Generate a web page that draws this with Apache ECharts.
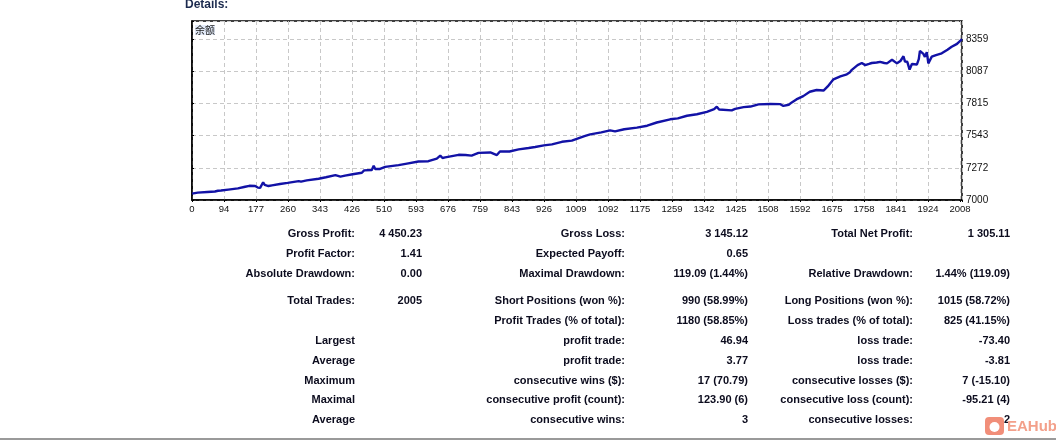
<!DOCTYPE html>
<html>
<head>
<meta charset="utf-8">
<script src="https://cdn.jsdelivr.net/npm/echarts@6.0.0/dist/echarts.min.js"></script>
<style>
  html, body { margin: 0; padding: 0; background: #fff; }
  #chart { width: 1056px; height: 441px; }
</style>
</head>
<body>
<div id="chart"></div>
<script>
// balance curve: [trade number, balance]
var trades = [0, 15, 40, 60, 68, 72, 76, 95, 120, 139, 150, 165, 172, 178, 186, 190, 200, 209, 230, 250,
  279, 285, 300, 331, 350, 375, 388, 400, 420, 444, 450, 470, 475, 479, 490, 505, 540, 562, 592, 618,
  640, 649, 655, 662, 697, 715, 731, 749, 780, 797, 805, 810, 830, 854, 880, 897, 920, 941, 967, 993,
  1026, 1041, 1070, 1093, 1106, 1130, 1163, 1190, 1215, 1250, 1270, 1294, 1320, 1346, 1365, 1372, 1378, 1411, 1420, 1442,
  1460, 1481, 1512, 1538, 1546, 1560, 1568, 1580, 1598, 1615, 1633, 1651, 1662, 1677, 1695, 1712, 1720, 1725, 1740, 1751,
  1760, 1770, 1777, 1790, 1799, 1810, 1817, 1830, 1843, 1852, 1860, 1864, 1870, 1876, 1882, 1895, 1900, 1903, 1908, 1912,
  1916, 1921, 1925, 1934, 1945, 1960, 1975, 1986, 2000, 2013];
var balance = [7054, 7062, 7068, 7072, 7078, 7062, 7080, 7088, 7098, 7112, 7120, 7118, 7105, 7102, 7150, 7128, 7118, 7124, 7135, 7145,
  7160, 7155, 7166, 7180, 7192, 7210, 7198, 7206, 7218, 7230, 7250, 7254, 7290, 7262, 7262, 7280, 7295, 7308, 7325, 7328,
  7350, 7375, 7355, 7360, 7382, 7380, 7375, 7398, 7402, 7380, 7410, 7418, 7410, 7428, 7440, 7448, 7462, 7470, 7492, 7502,
  7540, 7555, 7572, 7588, 7580, 7598, 7612, 7628, 7655, 7682, 7690, 7712, 7725, 7745, 7768, 7788, 7765, 7758, 7770, 7785,
  7790, 7808, 7812, 7810, 7795, 7805, 7825, 7850, 7878, 7915, 7930, 7925, 7960, 8020, 8045, 8062, 8080, 8100, 8140, 8158,
  8140, 8150, 8158, 8162, 8168, 8158, 8155, 8185, 8155, 8175, 8215, 8170, 8168, 8102, 8150, 8145, 8190, 8260, 8270, 8235,
  8210, 8250, 8155, 8212, 8225, 8240, 8270, 8295, 8320, 8359];

var xLabels = ['0', '94', '177', '260', '343', '426', '510', '593', '676', '759', '843', '926', '1009',
  '1092', '1175', '1259', '1342', '1425', '1508', '1592', '1675', '1758', '1841', '1924', '2008'];
var yLabels = ['7000', '7272', '7543', '7815', '8087', '8359'];

// report table, one row per line: label, value, label, value, label, value
var rows = [
  ['Gross Profit:', '4 450.23', 'Gross Loss:', '3 145.12', 'Total Net Profit:', '1 305.11'],
  ['Profit Factor:', '1.41', 'Expected Payoff:', '0.65', '', ''],
  ['Absolute Drawdown:', '0.00', 'Maximal Drawdown:', '119.09 (1.44%)', 'Relative Drawdown:', '1.44% (119.09)'],
  ['Total Trades:', '2005', 'Short Positions (won %):', '990 (58.99%)', 'Long Positions (won %):', '1015 (58.72%)'],
  ['', '', 'Profit Trades (% of total):', '1180 (58.85%)', 'Loss trades (% of total):', '825 (41.15%)'],
  ['Largest', '', 'profit trade:', '46.94', 'loss trade:', '-73.40'],
  ['Average', '', 'profit trade:', '3.77', 'loss trade:', '-3.81'],
  ['Maximum', '', 'consecutive wins ($):', '17 (70.79)', 'consecutive losses ($):', '7 (-15.10)'],
  ['Maximal', '', 'consecutive profit (count):', '123.90 (6)', 'consecutive loss (count):', '-95.21 (4)'],
  ['Average', '', 'consecutive wins:', '3', 'consecutive losses:', '2']
];

var X_STEP = 2008 / 24;
var Y_STEP = 271.7;
var colRight = [355, 422, 625, 748, 913, 1010];
var rowY = [234, 254, 274, 301, 321, 341, 361, 381, 400, 420];
var TEXT_COLOR = '#0c0c1e';
var TABLE_FONT = 'bold 11px "Liberation Sans", Arial, sans-serif';

function pickLabel(list, v, step, base) {
    var k = (v - base) / step;
    var i = Math.round(k);
    if (Math.abs(k - i) > 0.01 || i < 0 || i >= list.length) return '';
    return list[i];
}

var chart = echarts.init(document.getElementById('chart'), null, { renderer: 'canvas' });

var graphics = [
    {
        type: 'text',
        style: { text: 'Details:', x: 185, y: 5, fill: '#1b2a4e', font: 'bold 12px "Liberation Sans", Arial, sans-serif',
                 align: 'left', verticalAlign: 'middle', textAlign: 'left', textVerticalAlign: 'middle' }
    },
    {
        type: 'text',
        style: { text: '余额', x: 195, y: 30, fill: '#222', font: '10px "Noto Sans CJK SC", sans-serif',
                 backgroundColor: '#e4ecfa', align: 'left', verticalAlign: 'middle', textAlign: 'left', textVerticalAlign: 'middle' }
    },
    {
        type: 'rect',
        shape: { x: 0, y: 438, width: 1056, height: 2 },
        style: { fill: '#9a9a9a' }
    }
];

rows.forEach(function (row, r) {
    row.forEach(function (txt, c) {
        if (!txt) return;
        graphics.push({
            type: 'text',
            style: { text: txt, x: colRight[c], y: rowY[r], fill: TEXT_COLOR, font: TABLE_FONT,
                     align: 'right', verticalAlign: 'middle', textAlign: 'right', textVerticalAlign: 'middle' }
        });
    });
});

// watermark in the corner
graphics.push(
    { type: 'rect', shape: { x: 985, y: 417, width: 19, height: 18, r: 4 }, style: { fill: '#f0826a', opacity: 0.9 } },
    { type: 'circle', shape: { cx: 994.5, cy: 427, r: 5 }, style: { fill: '#fff' } },
    { type: 'text', style: { text: 'EAHub', x: 1007, y: 427, fill: '#f3a08a', font: 'bold 15px "Liberation Sans", Arial, sans-serif',
        align: 'left', verticalAlign: 'middle', textAlign: 'left', textVerticalAlign: 'middle' } }
);

var option = {
    animation: false,
    backgroundColor: '#fff',
    grid: {
        left: 192, right: 94, top: 21, bottom: 241,
        containLabel: false,
        outerBoundsMode: 'none',
        show: true,
        borderColor: '#000',
        borderWidth: 1.5,
        backgroundColor: '#fff'
    },
    xAxis: {
        type: 'value',
        min: 0,
        max: 2013,
        interval: X_STEP,
        axisLine: { show: true, lineStyle: { color: '#000', width: 1.5 } },
        axisTick: { show: true, length: 2, lineStyle: { color: '#000' } },
        splitLine: { show: true, lineStyle: { color: '#c8c8c8', type: [4, 3], width: 1 } },
        axisLabel: {
            margin: 4,
            color: '#111',
            fontSize: 9.5,
            fontFamily: '"Liberation Sans", Arial, sans-serif',
            showMinLabel: true,
            showMaxLabel: true,
            formatter: function (v) { return pickLabel(xLabels, v, X_STEP, 0); }
        }
    },
    yAxis: {
        type: 'value',
        position: 'right',
        min: 7000,
        max: 8513,
        interval: Y_STEP,
        axisLine: { show: true, lineStyle: { color: '#000', width: 1.5 } },
        axisTick: { show: true, length: 2, lineStyle: { color: '#000' } },
        splitLine: { show: true, lineStyle: { color: '#c8c8c8', type: [4, 3], width: 1 } },
        axisLabel: {
            margin: 4,
            color: '#111',
            fontSize: 10,
            fontFamily: '"Liberation Sans", Arial, sans-serif',
            verticalAlign: 'middle',
            formatter: function (v) { return pickLabel(yLabels, v, Y_STEP, 7000); }
        }
    },
    series: [{
        type: 'line',
        data: trades.map(function (t, i) { return [t, balance[i]]; }),
        showSymbol: false,
        lineStyle: { color: '#1212a6', width: 2.4 },
        itemStyle: { color: '#1212a6' },
        silent: true
    }],
    graphic: graphics
};

chart.setOption(option);
</script>
</body>
</html>
